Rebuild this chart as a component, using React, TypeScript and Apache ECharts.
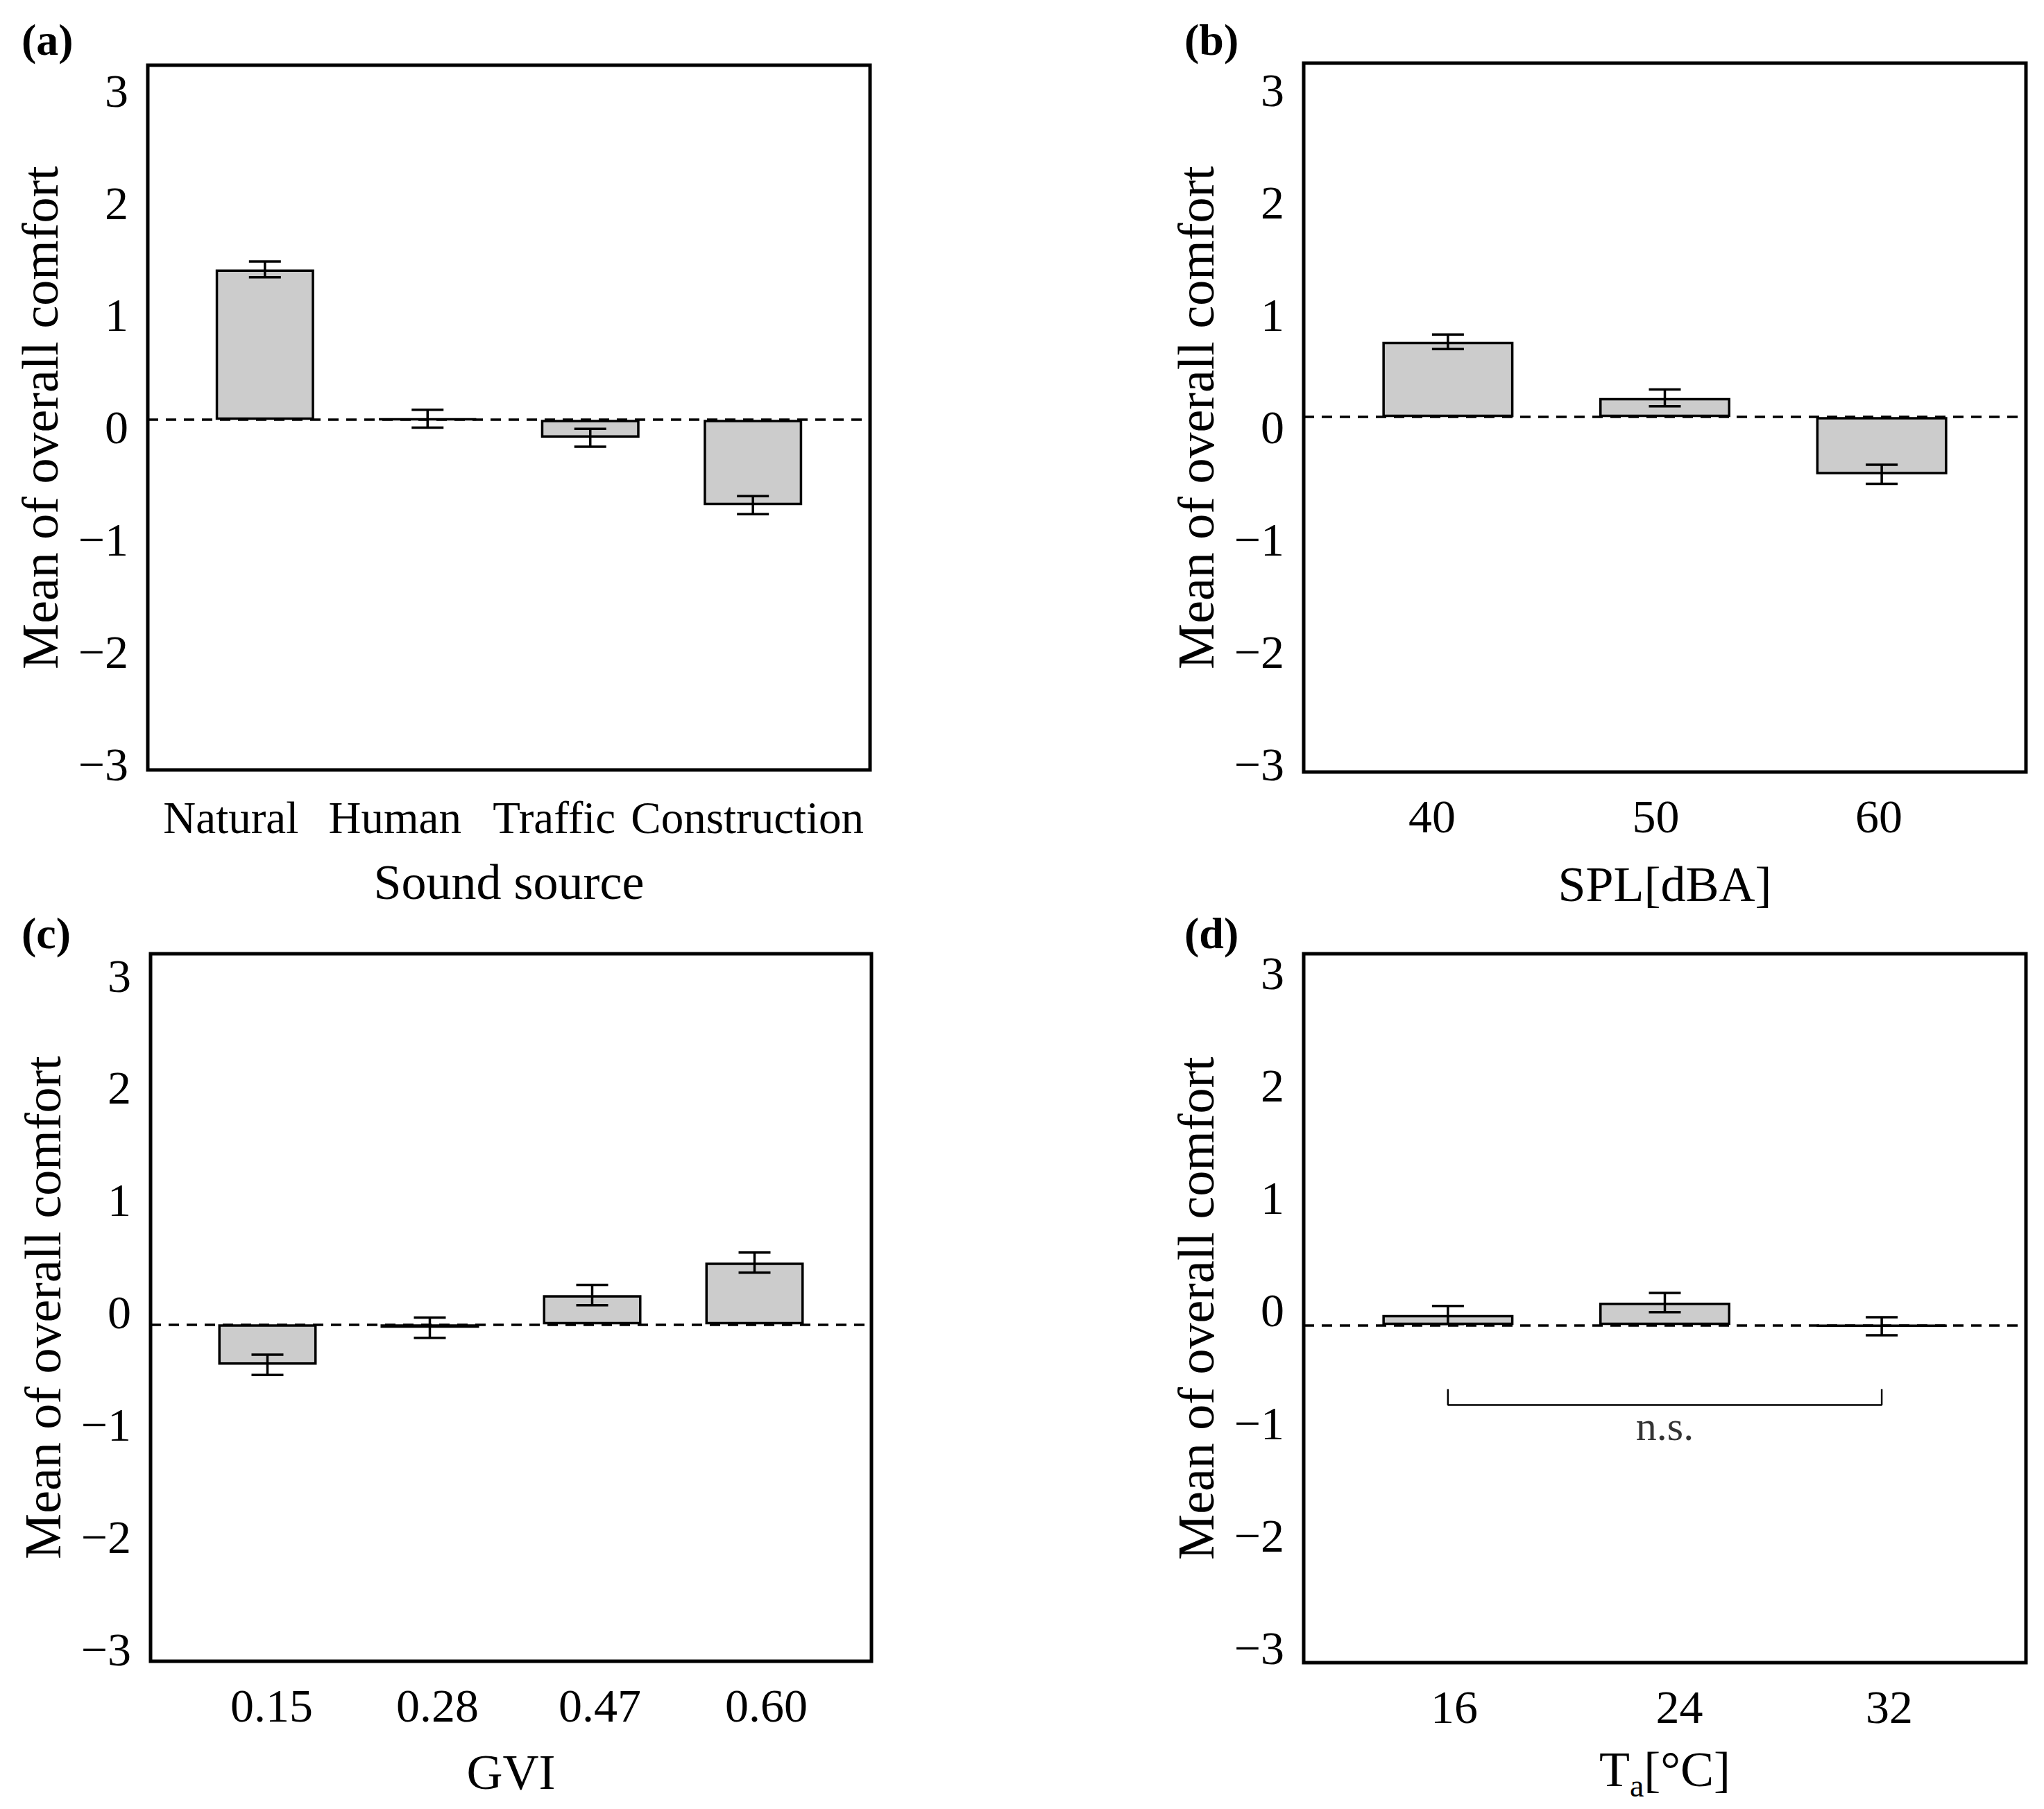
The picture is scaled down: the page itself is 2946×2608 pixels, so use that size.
import * as echarts from "echarts";
import React, { useEffect, useRef } from "react";

// panel (a) sound source
const soundCats = ["Natural", "Human", "Traffic", "Construction"];
const soundMeans = [1.34, 0.01, -0.16, -0.76];
const soundErr = [0.07, 0.08, 0.08, 0.08];

// panel (b) SPL
const splCats = ["40", "50", "60"];
const splMeans = [0.67, 0.17, -0.51];
const splErr = [0.065, 0.075, 0.085];

// panel (c) GVI
const gviCats = ["0.15", "0.28", "0.47", "0.60"];
const gviMeans = [-0.36, -0.03, 0.26, 0.55];
const gviErr = [0.09, 0.09, 0.09, 0.09];

// panel (d) air temperature
const taCats = ["16", "24", "32"];
const taMeans = [0.09, 0.2, -0.01];
const taErr = [0.08, 0.085, 0.08];

// n.s. bracket in (d)
const bracketPts = [[0, -0.57], [0, -0.71], [2, -0.71], [2, -0.57]];
const nsLabel = [[1, -0.9]];

const yTicks = [-3, -2, -1, 0, 1, 2, 3];

const FONT = "Liberation Serif";
const FS = 68;
const NAME_FS = 72;

const fmtY = (v: number) => {
    if (!yTicks.includes(Math.round(v * 1000) / 1000)) return "";
    const s = v < 0 ? "\u2212" + Math.abs(v) : String(v);
    return `{y|${s}}`;
};

const errorItem = (params: any, api: any) => {
    const x = api.value(0);
    const lo = api.coord([x, api.value(1)]);
    const hi = api.coord([x, api.value(2)]);
    const hw = 23;
    const style = { stroke: "#000", lineWidth: 3.5 };
    return {
        type: "group",
        children: [
            { type: "line", shape: { x1: lo[0], y1: lo[1], x2: hi[0], y2: hi[1] }, style },
            { type: "line", shape: { x1: lo[0] - hw, y1: lo[1], x2: lo[0] + hw, y2: lo[1] }, style },
            { type: "line", shape: { x1: hi[0] - hw, y1: hi[1], x2: hi[0] + hw, y2: hi[1] }, style },
        ],
    };
};

const App: React.FC = () => {
    const chartRef = useRef<HTMLDivElement>(null);

    useEffect(() => {
        document.body.style.margin = "0";
        if (!chartRef.current) return;
        const chart = echarts.init(chartRef.current, null, { renderer: "svg" });

        // labelShift: px the tick label sits left (+) / right (-) of its bar
        const panels = [
            { cats: soundCats, means: soundMeans, err: soundErr, grid: { left: 213, top: 94, width: 1041, height: 1016 }, yr: [-3.12, 3.16], name: "Sound source", barW: 142, labelMargin: 36, labelFs: 65, nameGap: 126, labelShift: [49, 47, 52, 8], yPad: [22, 0, 0, 0] },
            { cats: splCats, means: splMeans, err: splErr, grid: { left: 1879, top: 91, width: 1041, height: 1022 }, yr: [-3.16, 3.15], name: "SPL[dBA]", barW: 189, labelMargin: 30, labelFs: FS, nameGap: 126, labelShift: [23, 13, 4], yPad: [30, 0, 0, 0] },
            { cats: gviCats, means: gviMeans, err: gviErr, grid: { left: 217, top: 1375, width: 1039, height: 1020 }, yr: [-3.0, 3.3], name: "GVI", barW: 142, labelMargin: 30, labelFs: FS, nameGap: 124, labelShift: [-6, -11, -11, -17], yPad: [0, 0, 34, 0] },
            { cats: taCats, means: taMeans, err: taErr, grid: { left: 1879, top: 1375, width: 1041, height: 1022 }, yr: [-3.0, 3.3], name: "{t|T}{s|a}{t|[°C]}", barW: 189, labelMargin: 30, labelFs: FS, nameGap: 118, labelShift: [-9, -21, -11], yPad: [0, 0, 42, 0] },
        ];

        const grids: any[] = [];
        const xAxes: any[] = [];
        const yAxes: any[] = [];
        const series: any[] = [];

        panels.forEach((p, i) => {
            const n = p.cats.length;
            const pad = n === 4 ? 0.72 : 0.665;
            const rich: any = {};
            p.labelShift.forEach((s, k) => {
                rich["c" + k] = {
                    fontFamily: FONT,
                    fontSize: p.labelFs,
                    color: "#000",
                    padding: s >= 0 ? [0, 2 * s, 0, 0] : [0, 0, 0, -2 * s],
                };
            });
            grids.push({ ...p.grid, show: true, borderColor: "#000", borderWidth: 5, containLabel: false });
            xAxes.push({
                type: "value",
                gridIndex: i,
                min: -pad,
                max: n - 1 + pad,
                minInterval: 1,
                maxInterval: 1,
                axisLine: { show: false },
                axisTick: { show: false },
                splitLine: { show: false },
                axisLabel: {
                    margin: p.labelMargin,
                    color: "#000",
                    fontFamily: FONT,
                    fontSize: p.labelFs,
                    rich,
                    formatter: (v: number) =>
                        Number.isInteger(v) && v >= 0 && v < n ? `{c${v}|${p.cats[v]}}` : "",
                },
                name: p.name,
                nameLocation: "middle",
                nameGap: p.nameGap,
                nameTextStyle: {
                    color: "#000",
                    fontFamily: FONT,
                    fontSize: NAME_FS,
                    rich: {
                        t: { fontFamily: FONT, fontSize: NAME_FS, color: "#000", lineHeight: 84, verticalAlign: "top" },
                        s: { fontFamily: FONT, fontSize: 46, color: "#000", lineHeight: 84, verticalAlign: "top", padding: [36, 0, 0, 0] },
                    },
                },
            });
            yAxes.push({
                type: "value",
                gridIndex: i,
                min: p.yr[0],
                max: p.yr[1],
                minInterval: 1,
                maxInterval: 1,
                axisLine: { show: false },
                axisTick: { show: false },
                splitLine: { show: false },
                axisLabel: {
                    margin: 28,
                    color: "#000",
                    fontFamily: FONT,
                    fontSize: FS,
                    formatter: fmtY,
                    rich: { y: { fontFamily: FONT, fontSize: FS, color: "#000", padding: p.yPad } },
                },
                name: "Mean of overall comfort",
                nameLocation: "middle",
                nameGap: 118,
                nameTextStyle: { color: "#000", fontFamily: FONT, fontSize: 74 },
            });
            series.push({
                type: "bar",
                xAxisIndex: i,
                yAxisIndex: i,
                barWidth: p.barW,
                data: p.means.map((m, k) => [k, m]),
                itemStyle: { color: "#cccccc", borderColor: "#000", borderWidth: 3.5 },
                markLine: {
                    silent: true,
                    symbol: "none",
                    label: { show: false },
                    lineStyle: { color: "#000", width: 3.5, type: [15, 11] },
                    data: [{ yAxis: 0 }],
                },
            });
            series.push({
                type: "custom",
                xAxisIndex: i,
                yAxisIndex: i,
                renderItem: errorItem,
                encode: { x: 0, y: [1, 2] },
                data: p.means.map((m, k) => [k, m - p.err[k], m + p.err[k]]),
                z: 5,
            });
        });

        series.push({
            type: "line",
            xAxisIndex: 3,
            yAxisIndex: 3,
            data: bracketPts,
            symbol: "none",
            lineStyle: { color: "#000", width: 2.5 },
        });
        series.push({
            type: "scatter",
            xAxisIndex: 3,
            yAxisIndex: 3,
            data: nsLabel,
            symbolSize: 0,
            label: { show: true, position: "inside", formatter: "n.s.", color: "#000", fontFamily: FONT, fontSize: 60 },
        });

        const titleStyle = { color: "#000", fontFamily: FONT, fontWeight: "bold", fontSize: 64 };
        chart.setOption({
            animation: false,
            backgroundColor: "#fff",
            title: [
                { text: "(a)", left: 26, top: 20, textStyle: titleStyle },
                { text: "(b)", left: 1702, top: 20, textStyle: titleStyle },
                { text: "(c)", left: 26, top: 1308, textStyle: titleStyle },
                { text: "(d)", left: 1702, top: 1308, textStyle: titleStyle },
            ],
            grid: grids,
            xAxis: xAxes,
            yAxis: yAxes,
            series,
        });

        return () => { chart.dispose(); };
    }, []);

    return <div ref={chartRef} style={{ width: 2946, height: 2608 }} />;
};

export default App;
